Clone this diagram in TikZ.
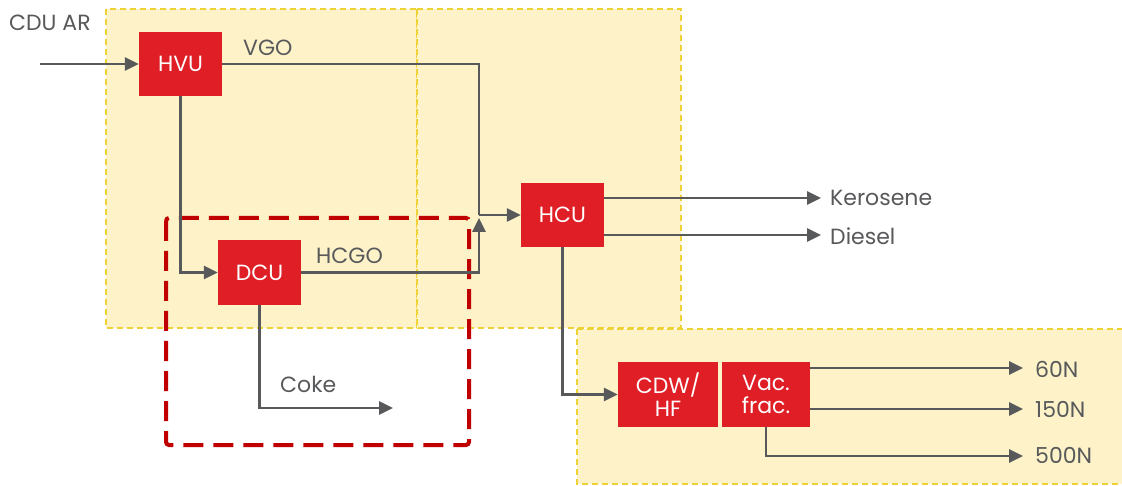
\documentclass[tikz,border=0pt]{standalone}
\usepackage{fontspec}
\setmainfont{Poppins}
\usetikzlibrary{arrows.meta}
\definecolor{boxred}{HTML}{DF1E26}
\definecolor{darkred}{HTML}{C00000}
\definecolor{linegray}{HTML}{58595B}
\definecolor{cream}{HTML}{FEF2C9}
\definecolor{ybord}{HTML}{EED236}
\tikzset{
  unitbox/.style={fill=boxred, text=white, inner sep=0pt, align=center, font=\fontsize{22}{23}\selectfont},
  flow/.style={draw=linegray, line width=2.6pt, -{Triangle[length=14pt,width=13pt]}},
  flowplain/.style={draw=linegray, line width=2.6pt},
  lbl/.style={text=linegray, anchor=west, inner sep=0pt, font=\fontsize{22}{23}\selectfont},
  zone/.style={fill=cream, draw=ybord, line width=1.4pt, dash pattern=on 6pt off 4pt},
  focus/.style={draw=darkred, line width=4pt, dash pattern=on 20pt off 10pt, rounded corners=3pt}
}
\begin{document}
\begin{tikzpicture}[x=1pt,y=-1pt]
\useasboundingbox (0,0) rectangle (1122,486);
\fill[white] (0,0) rectangle (1122,486);
% zones
\path[zone] (106,9) rectangle (417,328);
\path[zone] (417,9) rectangle (681,328);
\path[zone] (577,329) rectangle (1135,484);
% focus box
\draw[focus] (166,218) rectangle (469,445);
% units
\node[unitbox, minimum width=83pt, minimum height=64pt] (hvu) at (180.5,64) {HVU};
\node[unitbox, minimum width=83pt, minimum height=65pt] (dcu) at (259.5,272.5) {DCU};
\node[unitbox, minimum width=83pt, minimum height=64pt] (hcu) at (562.5,215) {HCU};
\node[unitbox, minimum width=100pt, minimum height=65pt] (cdw) at (668,394.5) {CDW/\\HF};
\node[unitbox, minimum width=88pt, minimum height=65pt] (vac) at (766,394.5) {Vac.\\frac.};
% coordinates
\coordinate (feed) at (40,64);
\coordinate (junc) at (479,215);
\coordinate (juncin) at (479,218);
\coordinate (coke) at (393,408);
\coordinate (ker) at (821,198);
\coordinate (dies) at (821,235);
\coordinate (n60) at (1023,368);
\coordinate (n150) at (1023,409);
\coordinate (n500) at (1023,456);
% connectors
\draw[flow] (feed) -- (hvu.west);
\draw[flowplain] (hvu.east) -| (junc);
\draw[flow] (junc) -- (hcu.west);
\draw[flow] (hvu.south) |- (dcu.west);
\draw[flow] (dcu.east) -| (juncin);
\draw[flow] (dcu.south) |- (coke);
\draw[flow] (hcu.east |- ker) -- (ker);
\draw[flow] (hcu.east |- dies) -- (dies);
\draw[flow] (hcu.south) |- (cdw.west);
\draw[flow] (vac.east |- n60) -- (n60);
\draw[flow] (vac.east |- n150) -- (n150);
\draw[flow] (vac.south) |- (n500);
% labels
\node[lbl] (lcdu) at (9,23) {CDU AR};
\node[lbl] (lvgo) at (243,48) {VGO};
\node[lbl] (lhcgo) at (316,256) {HCGO};
\node[lbl] (lcoke) at (280,384) {Coke};
\node[lbl] (lker) at (830,198) {Kerosene};
\node[lbl] (ldies) at (830,236) {Diesel};
\node[lbl] (l60) at (1035,369) {60N};
\node[lbl] (l150) at (1035,409) {150N};
\node[lbl] (l500) at (1035,455) {500N};
\end{tikzpicture}
\end{document}
